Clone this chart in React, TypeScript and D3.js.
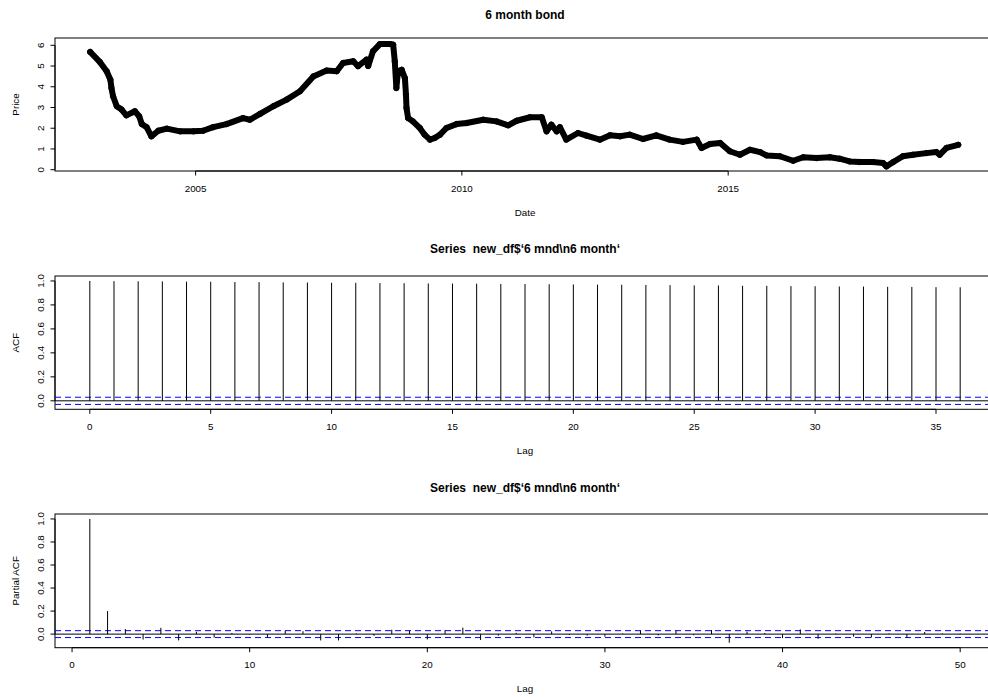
import React, { useEffect, useRef } from 'react';
import * as d3 from 'd3';

// 6 month bond price (decimal year, price)
const bondYears = [
  2003.02, 2003.2, 2003.33, 2003.4, 2003.42, 2003.45, 2003.52, 2003.61, 2003.7, 2003.86,
  2003.94, 2003.99, 2004.08, 2004.17, 2004.3, 2004.46, 2004.71, 2004.96, 2005.14, 2005.33,
  2005.58, 2005.89, 2006.02, 2006.21, 2006.46, 2006.71, 2006.96, 2007.21, 2007.46, 2007.65,
  2007.77, 2007.96, 2008.05, 2008.21, 2008.24, 2008.33, 2008.46, 2008.65, 2008.71, 2008.74,
  2008.77, 2008.8, 2008.87, 2008.93, 2008.95, 2008.96, 2008.99, 2009.08, 2009.21, 2009.3,
  2009.4, 2009.49, 2009.59, 2009.71, 2009.9, 2010.09, 2010.4, 2010.65, 2010.87, 2011.03,
  2011.28, 2011.5, 2011.59, 2011.68, 2011.78, 2011.84, 2011.96, 2012.18, 2012.34, 2012.59,
  2012.78, 2012.97, 2013.15, 2013.4, 2013.65, 2013.9, 2014.15, 2014.41, 2014.5, 2014.66,
  2014.85, 2015.03, 2015.22, 2015.41, 2015.6, 2015.72, 2015.97, 2016.22, 2016.41, 2016.66,
  2016.91, 2017.09, 2017.28, 2017.47, 2017.72, 2017.91, 2017.97, 2018.1, 2018.28, 2018.47,
  2018.72, 2018.91, 2018.97, 2019.1, 2019.32
];
const bondPrice = [
  5.68, 5.2, 4.75, 4.34, 3.94, 3.54, 3.06, 2.9, 2.62, 2.82,
  2.58, 2.2, 2.05, 1.61, 1.88, 1.98, 1.85, 1.85, 1.88, 2.05,
  2.2, 2.49, 2.41, 2.69, 3.06, 3.38, 3.78, 4.5, 4.78, 4.75,
  5.15, 5.23, 4.99, 5.31, 5.0, 5.71, 6.06, 6.06, 6.03, 5.23,
  3.94, 4.75, 4.82, 4.42, 3.62, 2.98, 2.49, 2.33, 2.01, 1.69,
  1.45, 1.53, 1.69, 2.01, 2.2, 2.25, 2.41, 2.33, 2.14, 2.36,
  2.53, 2.53, 1.85, 2.17, 1.85, 2.05, 1.45, 1.77, 1.64, 1.45,
  1.66, 1.61, 1.69, 1.48, 1.66, 1.45, 1.34, 1.45, 1.05, 1.24,
  1.29, 0.89, 0.72, 0.96, 0.85, 0.69, 0.65, 0.43, 0.6, 0.56,
  0.6, 0.53, 0.4, 0.37, 0.37, 0.32, 0.16, 0.37, 0.65, 0.72,
  0.8, 0.85, 0.72, 1.05, 1.2
];
const bondTicks = [2005, 2010, 2015];
const priceTicks = [0, 1, 2, 3, 4, 5, 6];

// autocorrelation, lags 0..36
const acfValues = [
  1.0, 0.998, 0.997, 0.996, 0.994, 0.993, 0.991, 0.99, 0.988, 0.987,
  0.985, 0.984, 0.982, 0.981, 0.979, 0.978, 0.977, 0.975, 0.974, 0.972,
  0.971, 0.969, 0.968, 0.966, 0.965, 0.963, 0.962, 0.96, 0.959, 0.957,
  0.956, 0.954, 0.953, 0.951, 0.95, 0.948, 0.947
];
const acfTicks = [0, 5, 10, 15, 20, 25, 30, 35];

// partial autocorrelation, lags 1..50
const pacfValues = [
  1.0, 0.2, 0.044, -0.047, 0.055, -0.055, 0.02, -0.03, 0.01, -0.005,
  -0.03, 0.03, 0.025, -0.055, -0.055, 0.006, -0.015, 0.038, 0.03, -0.046,
  0.034, 0.056, -0.051, -0.013, 0.011, -0.028, 0.024, -0.008, -0.013, -0.022,
  0.006, 0.03, -0.011, 0.03, -0.01, 0.035, -0.075, 0.022, 0.01, -0.035,
  0.04, -0.04, 0.005, -0.022, -0.03, 0.005, -0.03, 0.018, 0.006, 0.004
];
const pacfTicks = [0, 10, 20, 30, 40, 50];
const corTicks = [0, 0.2, 0.4, 0.6, 0.8, 1.0];
const ciBound = 0.03;

const seriesTitle = 'Series  new_df$\u20186 mnd\\n6 month\u2018';

const W = 988, H = 697;
const LEFT = 55, RIGHT = 995;
const FONT = 'Liberation Sans, Arial, Helvetica, sans-serif';

function drawFrame(g, x, y, xt, yt, opts) {
  const [bottom, top] = y.range();
  g.append('rect')
    .attr('x', LEFT).attr('y', top)
    .attr('width', RIGHT - LEFT).attr('height', bottom - top)
    .attr('fill', 'none').attr('stroke', '#000').attr('stroke-width', 1);

  // x axis (R style: line only between first and last tick)
  g.append('line')
    .attr('x1', x(xt[0])).attr('x2', x(xt[xt.length - 1]))
    .attr('y1', bottom).attr('y2', bottom)
    .attr('stroke', '#000');
  xt.forEach(t => {
    g.append('line').attr('x1', x(t)).attr('x2', x(t))
      .attr('y1', bottom).attr('y2', bottom + 4.5).attr('stroke', '#000');
    g.append('text').attr('x', x(t)).attr('y', bottom + 17)
      .attr('text-anchor', 'middle').attr('dominant-baseline', 'central')
      .attr('font-size', 9.8).text(opts.xfmt(t));
  });

  // y axis
  g.append('line')
    .attr('x1', LEFT).attr('x2', LEFT)
    .attr('y1', y(yt[0])).attr('y2', y(yt[yt.length - 1]))
    .attr('stroke', '#000');
  yt.forEach(t => {
    g.append('line').attr('x1', LEFT - 4.5).attr('x2', LEFT)
      .attr('y1', y(t)).attr('y2', y(t)).attr('stroke', '#000');
    g.append('text')
      .attr('transform', `translate(40,${y(t)}) rotate(-90)`)
      .attr('text-anchor', 'middle').attr('dominant-baseline', 'central')
      .attr('font-size', 9.8).text(opts.yfmt(t));
  });

  // labels
  g.append('text').attr('x', (LEFT + RIGHT) / 2).attr('y', opts.titleY)
    .attr('text-anchor', 'middle').attr('dominant-baseline', 'central')
    .attr('font-size', 12).attr('font-weight', 'bold')
    .style('white-space', 'pre').text(opts.title);
  g.append('text').attr('x', (LEFT + RIGHT) / 2).attr('y', bottom + 41)
    .attr('text-anchor', 'middle').attr('dominant-baseline', 'central')
    .attr('font-size', 9.8).text(opts.xlab);
  g.append('text')
    .attr('transform', `translate(15,${(top + bottom) / 2}) rotate(-90)`)
    .attr('text-anchor', 'middle').attr('dominant-baseline', 'central')
    .attr('font-size', 9.8).text(opts.ylab);
}

function drawCorrelogram(g, x, y, lags, values) {
  // zero line
  g.append('line').attr('x1', LEFT).attr('x2', RIGHT)
    .attr('y1', y(0)).attr('y2', y(0)).attr('stroke', '#000');
  // confidence bounds
  [ciBound, -ciBound].forEach(c => {
    g.append('line').attr('x1', LEFT).attr('x2', RIGHT)
      .attr('y1', y(c)).attr('y2', y(c))
      .attr('stroke', '#0000ff').attr('stroke-dasharray', '6,4');
  });
  g.selectAll('.spike')
    .data(values)
    .enter()
    .append('line')
    .attr('class', 'spike')
    .attr('x1', (d, i) => x(lags[i])).attr('x2', (d, i) => x(lags[i]))
    .attr('y1', y(0)).attr('y2', d => y(d))
    .attr('stroke', '#000').attr('stroke-width', 1);
}

export default function App() {
  const ref = useRef(null);

  useEffect(() => {
    const svg = d3.select(ref.current);
    svg.selectAll('*').remove();
    const root = svg.append('g').attr('font-family', FONT).attr('fill', '#000');

    // panel 1: price
    const x1 = d3.scaleLinear().domain([2002.36, 2020.01]).range([LEFT, RIGHT]);
    const y1 = d3.scaleLinear().domain([-0.063, 6.352]).range([171, 38]);
    const g1 = root.append('g');
    drawFrame(g1, x1, y1, bondTicks, priceTicks, {
      xfmt: d => String(d), yfmt: d => String(d),
      title: '6 month bond', titleY: 15, xlab: 'Date', ylab: 'Price'
    });
    const pts = bondYears.map((t, i) => [x1(t), y1(bondPrice[i])]);
    // the dense circles of the original read as a thick band
    g1.append('path')
      .attr('d', d3.line()(pts))
      .attr('fill', 'none').attr('stroke', '#000')
      .attr('stroke-width', 6).attr('stroke-linejoin', 'round').attr('stroke-linecap', 'round');
    g1.selectAll('.pt')
      .data(pts)
      .enter()
      .append('circle')
      .attr('class', 'pt')
      .attr('cx', d => d[0]).attr('cy', d => d[1]).attr('r', 2.7)
      .attr('fill', 'none').attr('stroke', '#000').attr('stroke-width', 1);

    // panel 2: ACF
    const acfLags = acfValues.map((d, i) => i);
    const x2 = d3.scaleLinear().domain([-1.44, 37.44]).range([LEFT, RIGHT]);
    const y2 = d3.scaleLinear().domain([-0.0707, 1.0412]).range([409.3, 276]);
    const g2 = root.append('g');
    drawFrame(g2, x2, y2, acfTicks, corTicks, {
      xfmt: d => String(d), yfmt: d => d3.format('.1f')(d),
      title: seriesTitle, titleY: 249, xlab: 'Lag', ylab: 'ACF'
    });
    drawCorrelogram(g2, x2, y2, acfLags, acfValues);

    // panel 3: PACF
    const pacfLags = pacfValues.map((d, i) => i + 1);
    const x3 = d3.scaleLinear().domain([-0.96, 51.96]).range([LEFT, RIGHT]);
    const y3 = d3.scaleLinear().domain([-0.118, 1.043]).range([647.7, 514]);
    const g3 = root.append('g');
    drawFrame(g3, x3, y3, pacfTicks, corTicks, {
      xfmt: d => String(d), yfmt: d => d3.format('.1f')(d),
      title: seriesTitle, titleY: 488, xlab: 'Lag', ylab: 'Partial ACF'
    });
    drawCorrelogram(g3, x3, y3, pacfLags, pacfValues);
  }, []);

  return (
    <svg ref={ref} width={W} height={H}
         style={{ position: 'absolute', left: 0, top: 0, background: '#fff' }} />
  );
}
